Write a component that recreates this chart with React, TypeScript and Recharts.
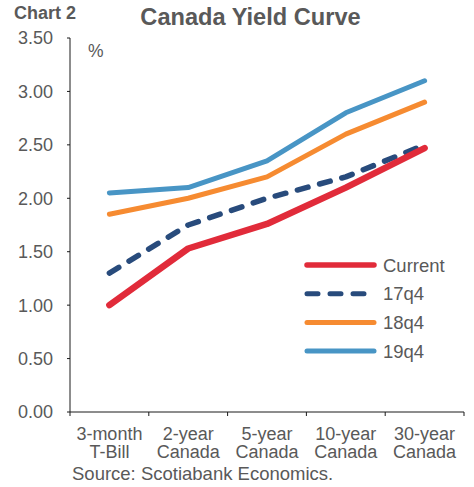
import React from "react";
import { LineChart, Line, XAxis, YAxis, Legend } from "recharts";

const categories = ["3-month\nT-Bill", "2-year\nCanada", "5-year\nCanada", "10-year\nCanada", "30-year\nCanada"];
const current = [1.0, 1.53, 1.76, 2.1, 2.47];
const q17 = [1.3, 1.75, 2.0, 2.2, 2.5];
const q18 = [1.85, 2.0, 2.2, 2.6, 2.9];
const q19 = [2.05, 2.1, 2.35, 2.8, 3.1];
const yTicks = [0, 0.5, 1, 1.5, 2, 2.5, 3, 3.5];

const series = [
  { key: "current", name: "Current", color: "#E12B3A", width: 6.5, dash: undefined as string | undefined },
  { key: "q17", name: "17q4", color: "#284B7C", width: 5.5, dash: "11 12" },
  { key: "q18", name: "18q4", color: "#F68B31", width: 5, dash: undefined },
  { key: "q19", name: "19q4", color: "#4895C5", width: 5, dash: undefined },
];

const data = categories.map((cat, i) => ({
  cat,
  current: current[i],
  q17: q17[i],
  q18: q18[i],
  q19: q19[i],
}));

const FONT = "'Liberation Sans', Arial, sans-serif";
const TEXT = "#595959";
const AXIS = "#1a1a1a";
const HALF_BAND = 39.4;

const XTick = (props: any) => {
  const { x, y, payload, index } = props;
  const lines = String(payload.value).split("\n");
  return (
    <g>
      <line x1={x - HALF_BAND} y1={y} x2={x - HALF_BAND} y2={y + 4} stroke={AXIS} />
      {index === categories.length - 1 && (
        <line x1={x + HALF_BAND} y1={y} x2={x + HALF_BAND} y2={y + 4} stroke={AXIS} />
      )}
      <text x={x} y={y} textAnchor="middle" fill={TEXT} fontSize={18} fontFamily={FONT}>
        {lines.map((l, i) => (
          <tspan key={i} x={x} dy={i === 0 ? 27.5 : 18.5}>
            {l}
          </tspan>
        ))}
      </text>
    </g>
  );
};

const LegendBox = () => (
  <svg width={170} height={115} style={{ display: "block" }}>
    {series.map((s, i) => {
      const y = 15 + i * 28.7;
      return (
        <g key={s.key}>
          <line
            x1={10}
            y1={y}
            x2={s.dash ? 68 : 77}
            y2={y}
            stroke={s.color}
            strokeWidth={s.width === 6.5 ? 5.5 : 5}
            strokeLinecap="round"
            strokeDasharray={s.dash}
          />
          <text x={86} y={y} dy="0.36em" fill={TEXT} fontSize={18.5} fontFamily={FONT}>
            {s.name}
          </text>
        </g>
      );
    })}
  </svg>
);

export default function App() {
  return (
    <div style={{ position: "fixed", left: 0, top: 0, width: 474, height: 487, background: "#fff", fontFamily: FONT }}>
      <LineChart width={474} height={487} data={data} margin={{ top: 38, right: 10, bottom: 20, left: 0 }}>
        <XAxis
          dataKey="cat"
          interval={0}
          padding={{ left: HALF_BAND, right: HALF_BAND }}
          height={55}
          tickLine={false}
          tickSize={0}
          tickMargin={0}
          axisLine={{ stroke: AXIS, strokeWidth: 1 }}
          tick={<XTick />}
        />
        <YAxis
          width={70}
          domain={[0, 3.5]}
          ticks={yTicks}
          interval={0}
          tickFormatter={(v: number) => v.toFixed(2)}
          tickSize={3}
          tickMargin={14}
          axisLine={{ stroke: AXIS, strokeWidth: 1 }}
          tickLine={{ stroke: AXIS }}
          tick={{ fill: TEXT, fontSize: 18, fontFamily: FONT }}
        />
        <Legend
          layout="horizontal"
          verticalAlign="middle"
          align="center"
          content={() => <LegendBox />}
          wrapperStyle={{ position: "absolute", left: 297, top: 250, width: 170, height: 115 }}
        />
        {[...series].reverse().map((s) => (
          <Line
            key={s.key}
            type="linear"
            dataKey={s.key}
            name={s.name}
            stroke={s.color}
            strokeWidth={s.width}
            strokeDasharray={s.dash}
            strokeLinecap="round"
            strokeLinejoin="round"
            dot={false}
            activeDot={false}
            isAnimationActive={false}
          />
        ))}
      </LineChart>
      <svg width={474} height={487} style={{ position: "absolute", left: 0, top: 0, pointerEvents: "none" }}>
        <text x={14} y={18.5} fill={TEXT} fontSize={18} fontWeight="bold" fontFamily={FONT}>
          Chart 2
        </text>
        <text x={250.5} y={25} textAnchor="middle" fill={TEXT} fontSize={23.6} fontWeight="bold" fontFamily={FONT}>
          Canada Yield Curve
        </text>
        <text x={88} y={56.5} fill={TEXT} fontSize={17.5} fontFamily={FONT}>
          %
        </text>
        <text x={72} y={480} fill={TEXT} fontSize={18.5} fontFamily={FONT}>
          Source: Scotiabank Economics.
        </text>
      </svg>
    </div>
  );
}
